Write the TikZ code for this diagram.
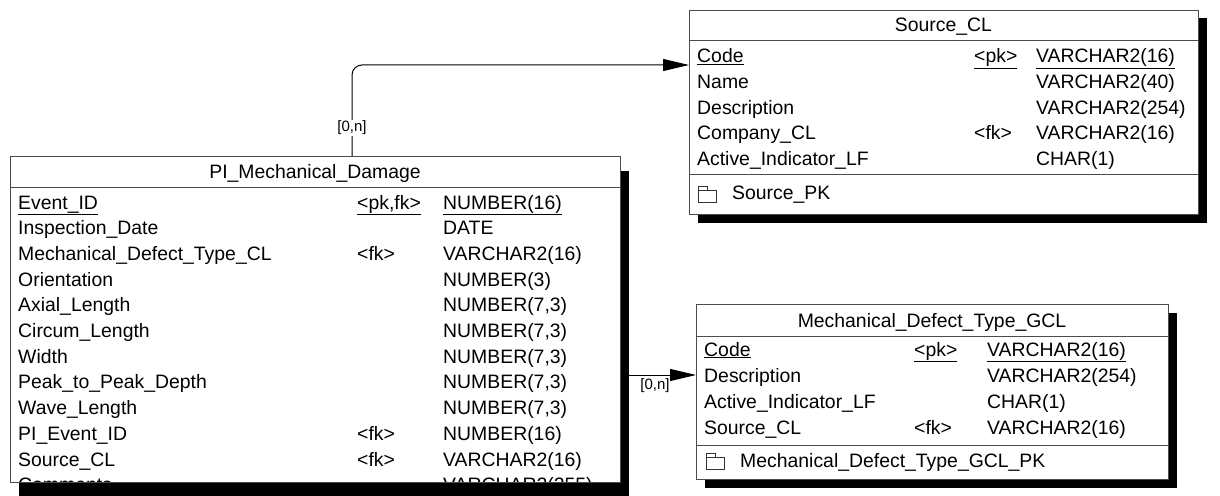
\documentclass[tikz,border=0pt]{standalone}
\usepackage{fontspec}
\setmainfont{Liberation Sans}
\usetikzlibrary{arrows.meta,shadows}
\begin{document}
\begin{tikzpicture}[x=1pt,y=-1pt,
  font=\fontsize{19.4}{23}\selectfont,
  tbl/.style={draw=black!70, fill=white, line width=1pt, inner sep=0pt, anchor=north west,
    general shadow={fill=black, shadow xshift=8pt, shadow yshift=-8pt}},
  tblpi/.style={draw=black!70, fill=white, line width=1pt, inner sep=0pt, anchor=north west,
    general shadow={fill=black, shadow xshift=8pt, shadow yshift=-14pt}},
  cell/.style={anchor=base west, inner sep=0pt},
  ttl/.style={anchor=base, inner sep=0pt},
  sepline/.style={draw=black!70, line width=1pt},
  rel/.style={line width=1pt, rounded corners=10pt, -{Triangle[length=26pt,width=12pt]}},
  card/.style={font=\fontsize{15}{17}\selectfont, inner sep=1.5pt},
  icon/.style={draw=black!80, line width=0.8pt}]
\useasboundingbox (0,0) rectangle (1220,495);

% ---------------- PI_Mechanical_Damage ----------------
\node[tblpi, minimum width=610pt, minimum height=326pt] (pmd) at (10,156) {};
\draw[sepline] (10,187) -- (620,187);
\node[ttl] (pmdt) at (315,178) {PI\_Mechanical\_Damage};
\begin{scope}
\clip (10.5,156) rectangle (619.5,481.5);
\node[cell] (pmdn0) at (18,209) {\underline{Event\_ID}};
\node[cell] (pmdk0) at (357,209) {\underline{<pk,fk>}};
\node[cell] (pmdy0) at (443,209) {\underline{NUMBER(16)}};
\foreach \nm/\ky/\ty [count=\i from 1] in {
  {Inspection\_Date}/{}/{DATE},
  {Mechanical\_Defect\_Type\_CL}/{<fk>}/{VARCHAR2(16)},
  {Orientation}/{}/{NUMBER(3)},
  {Axial\_Length}/{}/{NUMBER(7,3)},
  {Circum\_Length}/{}/{NUMBER(7,3)},
  {Width}/{}/{NUMBER(7,3)},
  {Peak\_to\_Peak\_Depth}/{}/{NUMBER(7,3)},
  {Wave\_Length}/{}/{NUMBER(7,3)},
  {PI\_Event\_ID}/{<fk>}/{NUMBER(16)},
  {Source\_CL}/{<fk>}/{VARCHAR2(16)},
  {Comments}/{}/{VARCHAR2(255)}} {
  \node[cell] (pmdn\i) at (18,{209+25.7*\i}) {\nm};
  \node[cell] (pmdk\i) at (357,{209+25.7*\i}) {\ky};
  \node[cell] (pmdy\i) at (443,{209+25.7*\i}) {\ty};
}
\end{scope}

% ---------------- Source_CL ----------------
\node[tbl, minimum width=509pt, minimum height=204pt] (src) at (689,10) {};
\draw[sepline] (689,41) -- (1198,41);
\draw[sepline] (689,174) -- (1198,174);
\node[ttl] (srct) at (943.5,32) {Source\_CL};
\node[cell] (srcn0) at (697,63) {\underline{Code}};
\node[cell] (srck0) at (974,63) {\underline{<pk>}};
\node[cell] (srcy0) at (1036,63) {\underline{VARCHAR2(16)}};
\foreach \nm/\ky/\ty [count=\i from 1] in {
  {Name}/{}/{VARCHAR2(40)},
  {Description}/{}/{VARCHAR2(254)},
  {Company\_CL}/{<fk>}/{VARCHAR2(16)},
  {Active\_Indicator\_LF}/{}/{CHAR(1)}} {
  \node[cell] (srcn\i) at (697,{63+25.5*\i}) {\nm};
  \node[cell] (srck\i) at (974,{63+25.5*\i}) {\ky};
  \node[cell] (srcy\i) at (1036,{63+25.5*\i}) {\ty};
}
\draw[icon] (698,202) -- (698,186) -- (707,186) -- (707,190) -- (716,190) -- (716,202) -- cycle;
\draw[icon] (698,190) -- (707,190);
\node[cell] (srcpk) at (732,199) {Source\_PK};

% ---------------- Mechanical_Defect_Type_GCL ----------------
\node[tbl, minimum width=472pt, minimum height=175pt] (gcl) at (696,304) {};
\draw[sepline] (696,336) -- (1168,336);
\draw[sepline] (696,445) -- (1168,445);
\node[ttl] (gclt) at (932,327) {Mechanical\_Defect\_Type\_GCL};
\node[cell] (gcln0) at (704,356) {\underline{Code}};
\node[cell] (gclk0) at (914,356) {\underline{<pk>}};
\node[cell] (gcly0) at (987,356) {\underline{VARCHAR2(16)}};
\foreach \nm/\ky/\ty [count=\i from 1] in {
  {Description}/{}/{VARCHAR2(254)},
  {Active\_Indicator\_LF}/{}/{CHAR(1)},
  {Source\_CL}/{<fk>}/{VARCHAR2(16)}} {
  \node[cell] (gcln\i) at (704,{356+26*\i}) {\nm};
  \node[cell] (gclk\i) at (914,{356+26*\i}) {\ky};
  \node[cell] (gcly\i) at (987,{356+26*\i}) {\ty};
}
\draw[icon] (706,469) -- (706,453) -- (715,453) -- (715,457) -- (724,457) -- (724,469) -- cycle;
\draw[icon] (706,457) -- (715,457);
\node[cell] (gclpk) at (740,467) {Mechanical\_Defect\_Type\_GCL\_PK};

% ---------------- References ----------------
\draw[rel] ([xshift=342pt]pmd.north west) |- ([yshift=-55pt]src.north west);
\node[card, fill=white] (c1) at (352,128) {[0,n]};
\draw[rel] ([yshift=-219pt]pmd.north east) -- ([yshift=-71pt]gcl.north west);
\node[card] (c2) at (655,386) {[0,n]};
\end{tikzpicture}
\end{document}
